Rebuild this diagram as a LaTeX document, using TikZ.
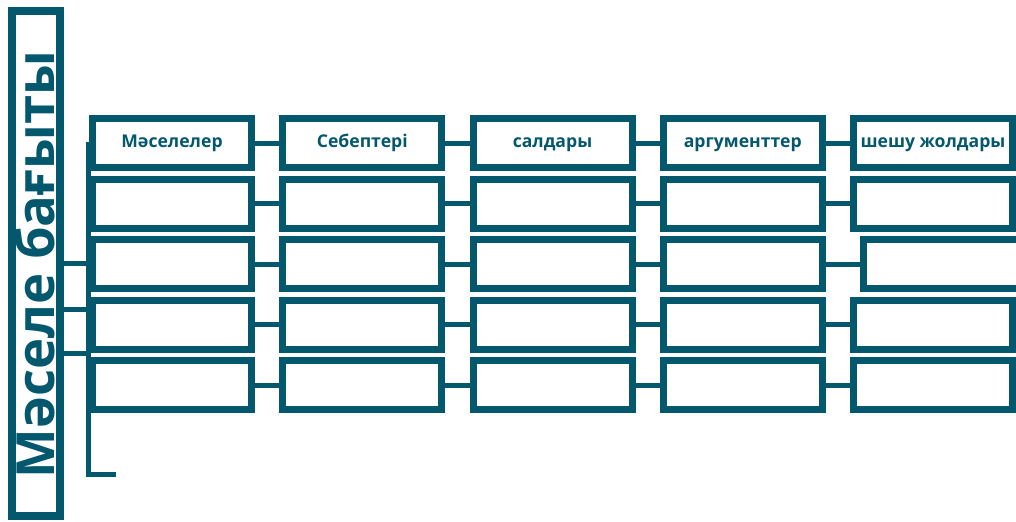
\documentclass[tikz,border=0pt]{standalone}
\usepackage{fontspec}
\setmainfont{Open Sans}
\usetikzlibrary{shadows}
\definecolor{deepteal}{HTML}{04586E}
\tikzset{
    cell/.style={draw=deepteal, line width=5.25pt, fill=white, inner sep=0pt,
        minimum width=119.25pt, minimum height=36.75pt, text=deepteal,
        text height=1.33ex, text depth=0pt,
        font=\bfseries\fontsize{13.2}{16}\selectfont,
        drop shadow={shadow xshift=1.5pt, shadow yshift=-1.5pt, opacity=0.25}},
    link/.style={draw=deepteal, line width=3.75pt}
}
\begin{document}
\begin{tikzpicture}[x=0.75pt,y=-0.75pt]
        \useasboundingbox (0,0) rectangle (1016,521);
        \node[draw=deepteal, line width=6pt, fill=white, minimum width=36pt, minimum height=378.75pt,
            drop shadow={shadow xshift=1.5pt, shadow yshift=-1.5pt, opacity=0.25}] (axis) at (36,263.5) {};
        \node[rotate=90, anchor=base, text=deepteal, font=\bfseries\fontsize{39.5}{47}\selectfont]
            (title) at (54.5,264.5) {Мәселе бағыты};
        \coordinate (spine) at (88.5,142);
        \coordinate (foot) at (116,474);
        \draw[link] (spine) |- (foot);
        \foreach \y in {263.5,309,353} {
            \draw[link] (axis.east |- 0,\y) -- (spine |- 0,\y);
        }
        \foreach \c/\lbl in {1/Мәселелер,2/Себептері,3/салдары,4/аргументтер,5/шешу жолдары} {
            \foreach \r in {1,...,5} {
                \pgfmathsetmacro{\xc}{172+190.25*(\c-1)+(and(\c==5,\r==3) ? 10 : 0)}
                \ifnum\r=1
                    \node[cell] (c\c r\r) at (\xc,{143+60.5*(\r-1)}) {\lbl};
                \else
                    \node[cell] (c\c r\r) at (\xc,{143+60.5*(\r-1)}) {};
                \fi
            }
        }
        \foreach \r in {1,...,5} \foreach \c in {1,...,4} {
            \pgfmathtruncatemacro{\n}{\c+1}
            \draw[link] (c\c r\r.east) -- (c\n r\r.west);
        }
    \end{tikzpicture}
\end{document}
